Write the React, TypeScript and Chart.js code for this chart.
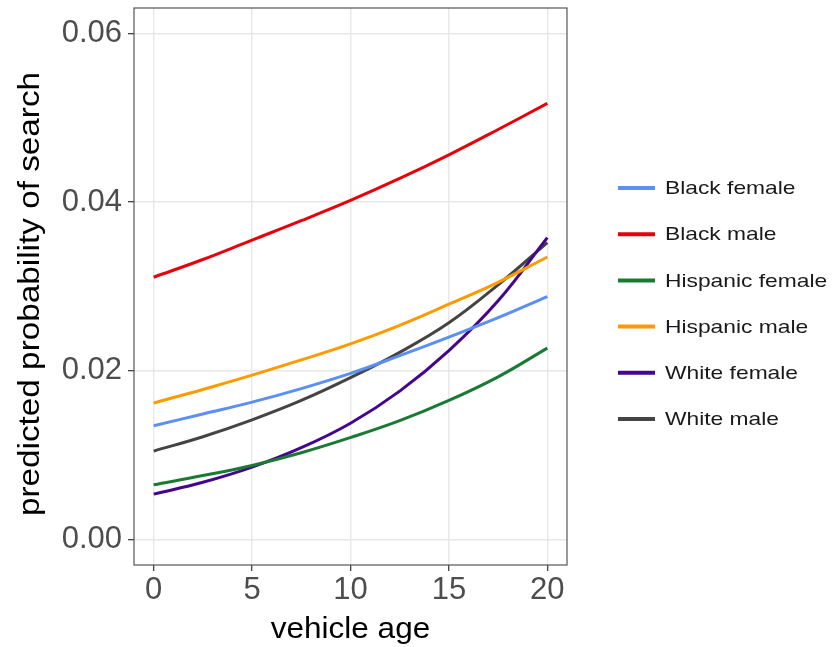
import React, { useEffect, useRef } from "react";
import { Chart, registerables } from "chart.js";

Chart.register(...registerables);

const ages = [0, 2.5, 5, 7.5, 10, 12.5, 15, 17.5, 20];
const blackFemale = [0.0135, 0.0149, 0.0163, 0.0179, 0.0197, 0.0218, 0.024, 0.0263, 0.0288];
const blackMale = [0.0311, 0.0332, 0.0355, 0.0378, 0.0402, 0.0428, 0.0456, 0.0486, 0.0517];
const hispanicFemale = [0.0065, 0.0076, 0.0088, 0.0103, 0.0121, 0.0141, 0.0165, 0.0193, 0.0227];
const hispanicMale = [0.0162, 0.0178, 0.0195, 0.0213, 0.0232, 0.0254, 0.0279, 0.0305, 0.0335];
const whiteFemale = [0.0054, 0.0068, 0.0086, 0.0109, 0.0138, 0.0176, 0.0224, 0.0283, 0.0358];
const whiteMale = [0.0105, 0.0122, 0.0142, 0.0165, 0.0192, 0.0222, 0.0257, 0.0302, 0.0352];

const seriesNames = ["Black female", "Black male", "Hispanic female", "Hispanic male", "White female", "White male"];
const seriesValues = [blackFemale, blackMale, hispanicFemale, hispanicMale, whiteFemale, whiteMale];
const seriesColors = ["#5b8ff2", "#e8000b", "#1a7a34", "#ff9a00", "#44058f", "#444444"];

const xTicks = [0, 5, 10, 15, 20];
const yTicks = [0, 0.02, 0.04, 0.06];
const xTitle = "vehicle age";
const yTitle = "predicted probability of search";

const FONT = "'Liberation Sans', Arial, Helvetica, sans-serif";

const decorPlugin = {
  id: "decor",
  afterDraw(chart: any) {
    const { ctx, chartArea } = chart;
    ctx.save();
    // panel border
    ctx.strokeStyle = "#555555";
    ctx.lineWidth = 1.2;
    ctx.strokeRect(chartArea.left, chartArea.top, chartArea.right - chartArea.left, chartArea.bottom - chartArea.top);

    // axis titles
    ctx.fillStyle = "#000000";
    ctx.font = `30px ${FONT}`;
    ctx.textAlign = "center";
    ctx.textBaseline = "middle";
    ctx.save();
    ctx.translate((chartArea.left + chartArea.right) / 2, 630);
    ctx.scale(1.05, 1);
    ctx.fillText(xTitle, 0, 0);
    ctx.restore();
    ctx.save();
    ctx.translate(31, 294);
    ctx.rotate(-Math.PI / 2);
    ctx.scale(1.11, 1);
    ctx.fillText(yTitle, 0, 0);
    ctx.restore();

    // legend
    const startY = 188;
    const gap = 46.2;
    seriesNames.forEach((name, i) => {
      const y = startY + i * gap;
      ctx.strokeStyle = seriesColors[i];
      ctx.lineWidth = 4;
      ctx.lineCap = "butt";
      ctx.beginPath();
      ctx.moveTo(618, y);
      ctx.lineTo(655, y);
      ctx.stroke();
      ctx.save();
      ctx.translate(665, y);
      ctx.scale(1.2, 1);
      ctx.fillStyle = "#1a1a1a";
      ctx.font = `19px ${FONT}`;
      ctx.textAlign = "left";
      ctx.textBaseline = "middle";
      ctx.fillText(name, 0, 1);
      ctx.restore();
    });
    ctx.restore();
  },
};

export default function App() {
  const ref = useRef<HTMLCanvasElement | null>(null);

  useEffect(() => {
    document.body.style.margin = "0";
    const canvas = ref.current;
    if (!canvas) return;
    const chart = new Chart(canvas, {
      type: "line",
      data: {
        datasets: seriesNames.map((name, i) => ({
          label: name,
          data: ages.map((a, j) => ({ x: a, y: seriesValues[i][j] })),
          borderColor: seriesColors[i],
          backgroundColor: seriesColors[i],
          borderWidth: 3,
          pointRadius: 0,
          tension: 0.4,
          fill: false,
        })),
      },
      options: {
        responsive: false,
        animation: false,
        devicePixelRatio: 1,
        layout: { padding: { top: 8, right: 265, left: 0, bottom: 0 } },
        plugins: {
          legend: { display: false },
          tooltip: { enabled: false },
        },
        scales: {
          x: {
            type: "linear",
            min: -1,
            max: 21,
            afterBuildTicks: (scale: any) => {
              scale.ticks = xTicks.map((v) => ({ value: v }));
            },
            afterFit: (scale: any) => {
              scale.height = 82;
              scale.paddingLeft = 0;
              scale.paddingRight = 0;
            },
            grid: {
              color: "#e8e8e8",
              lineWidth: 1.4,
              tickColor: "#333333",
              tickLength: 6,
              tickWidth: 1.2,
              drawTicks: true,
            },
            border: { display: false },
            ticks: {
              color: "#4d4d4d",
              font: { family: FONT, size: 31 },
              padding: 1,
              maxRotation: 0,
              autoSkip: false,
              callback: (v: any) => String(v),
            },
          },
          y: {
            type: "linear",
            min: -0.003,
            max: 0.063,
            afterBuildTicks: (scale: any) => {
              scale.ticks = yTicks.map((v) => ({ value: v }));
            },
            afterFit: (scale: any) => {
              scale.width = 134;
              scale.paddingTop = 0;
              scale.paddingBottom = 0;
            },
            grid: {
              color: "#e8e8e8",
              lineWidth: 1.4,
              tickColor: "#333333",
              tickLength: 6,
              tickWidth: 1.2,
              drawTicks: true,
            },
            border: { display: false },
            ticks: {
              color: "#4d4d4d",
              font: { family: FONT, size: 31 },
              padding: 6,
              autoSkip: false,
              callback: (v: any) => Number(v).toFixed(2),
            },
          },
        },
      },
      plugins: [decorPlugin],
    });
    return () => chart.destroy();
  }, []);

  return (
    <div style={{ width: 832, height: 647, position: "relative" }}>
      <canvas ref={ref} width={832} height={647} style={{ display: "block" }} />
    </div>
  );
}
